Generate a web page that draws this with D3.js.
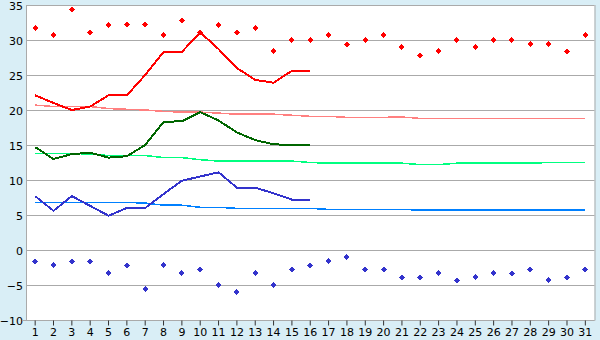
<!DOCTYPE html>
<html>
<head>
<meta charset="utf-8">
<script src="https://cdn.jsdelivr.net/npm/d3@7"></script>
<style>
  body { margin: 0; background: #d9eef6; }
  svg { display: block; }
  text { font-family: "DejaVu Sans", Verdana, sans-serif; font-size: 11px; fill: #000; }
</style>
</head>
<body>
<svg id="chart" width="600" height="340"></svg>
<script>
// days of the month
const days = d3.range(1, 32);
const yTicks = [-10, -5, 0, 5, 10, 15, 20, 25, 30, 35];

// record highs / lows (diamonds)
const recordMax = [31.7, 30.7, 34.4, 31.1, 32.2, 32.2, 32.2, 30.7, 32.8, 31.1,
  32.2, 31.1, 31.7, 28.4, 30.0, 30.0, 30.7, 29.4, 30.0, 30.7,
  29.0, 27.8, 28.4, 30.0, 29.0, 30.0, 30.0, 29.4, 29.4, 28.4, 30.7];
const recordMin = [-1.6, -2.2, -1.6, -1.6, -3.3, -2.2, -5.6, -2.2, -3.3, -2.8,
  -5.0, -6.0, -3.3, -5.0, -2.8, -2.2, -1.6, -1.0, -2.8, -2.8,
  -3.9, -3.9, -3.3, -4.3, -3.9, -3.3, -3.3, -2.8, -4.3, -3.9, -2.8];

// this month (first 16 days)
const curMax = [22.1, 21.0, 20.0, 20.5, 22.1, 22.1, 25.0, 28.3, 28.3, 31.1,
  28.7, 26.0, 24.3, 23.9, 25.6, 25.6];
const curMean = [14.7, 13.0, 13.7, 13.9, 13.2, 13.4, 15.0, 18.3, 18.4, 19.7,
  18.5, 16.8, 15.7, 15.1, 15.0, 15.0];
const curMin = [7.7, 5.6, 7.7, 6.3, 4.9, 6.0, 6.0, 8.0, 9.9, 10.5,
  11.1, 8.9, 8.9, 8.1, 7.2, 7.2];

// normals
const normMax = [20.7, 20.5, 20.5, 20.5, 20.2, 20.1, 20.0, 19.8, 19.7, 19.7,
  19.55, 19.4, 19.4, 19.4, 19.25, 19.1, 19.1, 18.95, 18.95, 18.95,
  19.0, 18.8, 18.8, 18.8, 18.8, 18.8, 18.8, 18.8, 18.8, 18.8, 18.8];
const normMean = [13.8, 13.8, 13.8, 13.7, 13.5, 13.5, 13.5, 13.2, 13.2, 12.9,
  12.7, 12.7, 12.7, 12.7, 12.7, 12.5, 12.4, 12.4, 12.4, 12.4,
  12.4, 12.2, 12.2, 12.4, 12.4, 12.4, 12.4, 12.4, 12.5, 12.5, 12.5];
const normMin = [6.8, 6.8, 6.8, 6.8, 6.8, 6.8, 6.7, 6.4, 6.4, 6.1,
  6.1, 5.95, 5.95, 5.95, 5.95, 5.95, 5.8, 5.8, 5.8, 5.8,
  5.8, 5.7, 5.7, 5.7, 5.7, 5.7, 5.7, 5.7, 5.7, 5.7, 5.7];

const svg = d3.select('#chart');
const plot = { left: 26, right: 594.5, top: 5, bottom: 320 };

const xBand = d3.scaleBand().domain(days).range([plot.left, plot.right]);
const x = d => xBand(d) + xBand.bandwidth() / 2;
const y = d3.scaleLinear().domain([-10, 35]).range([plot.bottom, plot.top]);

// plot background
svg.append('rect')
  .attr('x', plot.left).attr('y', plot.top)
  .attr('width', plot.right - plot.left).attr('height', plot.bottom - plot.top)
  .attr('fill', '#fff');

// gridlines
svg.append('g').selectAll('line').data(yTicks).join('line')
  .attr('x1', plot.left).attr('x2', plot.right)
  .attr('y1', d => Math.round(y(d)) + 0.5).attr('y2', d => Math.round(y(d)) + 0.5)
  .attr('stroke', '#aaa');

// frame
svg.append('line').attr('x1', plot.left + 0.5).attr('x2', plot.left + 0.5)
  .attr('y1', plot.top).attr('y2', plot.bottom).attr('stroke', '#aaa');
svg.append('line').attr('x1', plot.right + 0.5).attr('x2', plot.right + 0.5)
  .attr('y1', plot.top).attr('y2', plot.bottom + 0.5).attr('stroke', '#aaa');

// y axis labels
const yAxis = d3.axisLeft(y).tickValues(yTicks).tickSize(4).tickFormat(d3.format('d'));
const gy = svg.append('g').attr('transform', `translate(${plot.left},0.5)`).call(yAxis);
gy.select('.domain').remove();
gy.selectAll('.tick line').attr('stroke', 'none');
gy.selectAll('.tick text').attr('x', -3).attr('dy', '0.35em')
  .style('font-size', '11px').style('font-family', '"DejaVu Sans", Verdana, sans-serif');

// x axis
const xAxis = d3.axisBottom(xBand).tickSize(5).tickSizeOuter(0);
const gx = svg.append('g').attr('transform', `translate(0,${plot.bottom + 0.5})`).call(xAxis);
gx.select('.domain').attr('d', `M${plot.left - 4},0H${plot.right}`).attr('stroke', '#aaa');
gx.selectAll('.tick line').attr('stroke', '#333');
gx.selectAll('.tick text').attr('y', 8)
  .style('font-size', '11px').style('font-family', '"DejaVu Sans", Verdana, sans-serif');

// lines
const line = d3.line().x((d, i) => x(days[i])).y(d => y(d));

function drawLine(values, color, width) {
  svg.append('path').datum(values)
    .attr('d', line)
    .attr('fill', 'none')
    .attr('stroke', color)
    .attr('stroke-width', width)
    .attr('shape-rendering', 'crispEdges');
}

drawLine(normMax, '#ff8080', 1.5);
drawLine(normMean, '#00ff80', 1.5);
drawLine(normMin, '#0080ff', 1.5);
drawLine(curMax, '#ff0000', 2);
drawLine(curMean, '#006600', 2);
drawLine(curMin, '#3333cc', 2);

// record diamonds
const diamond = d3.symbol().type(d3.symbolSquare).size(18);
function drawDiamonds(values, color) {
  svg.append('g').selectAll('path').data(values).join('path')
    .attr('d', diamond)
    .attr('transform', (d, i) => `translate(${x(days[i])},${y(d)}) rotate(45)`)
    .attr('fill', color)
    .attr('shape-rendering', 'crispEdges');
}
drawDiamonds(recordMax, '#ff0000');
drawDiamonds(recordMin, '#3333cc');
</script>
</body>
</html>
